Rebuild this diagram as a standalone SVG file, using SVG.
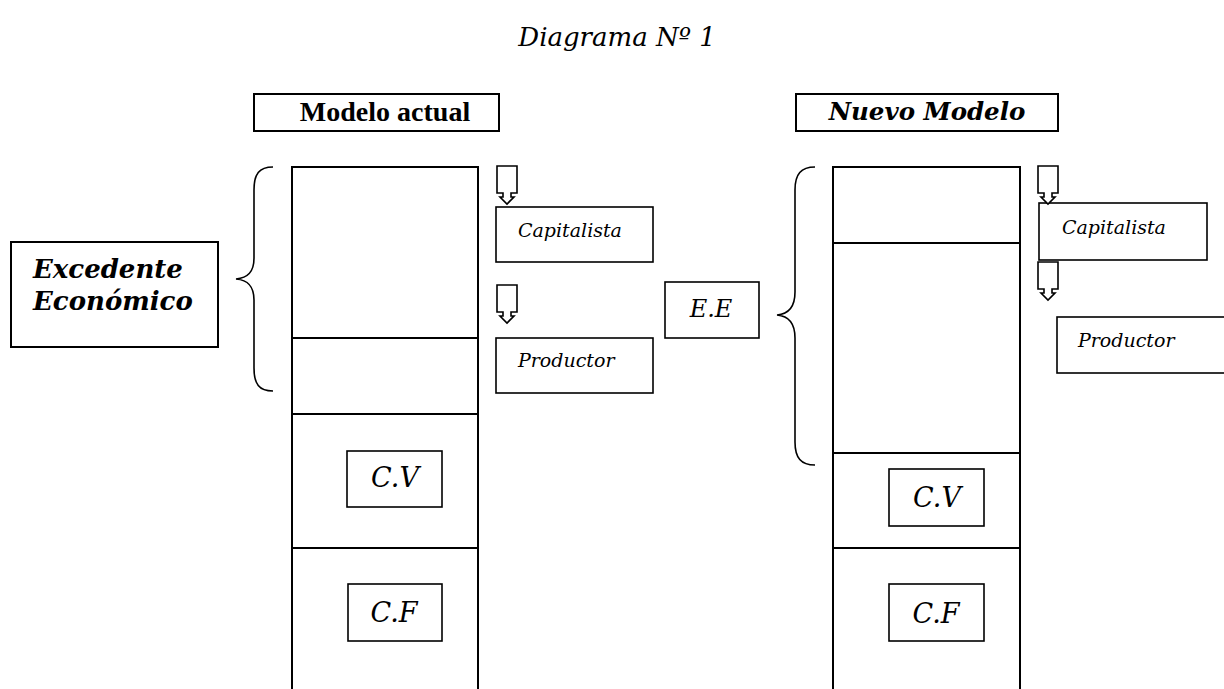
<svg xmlns="http://www.w3.org/2000/svg" width="1224" height="689" viewBox="0 0 1224 689">
<style>
.box{fill:#fff;stroke:#000;stroke-width:2}
.thin{fill:#fff;stroke:#000;stroke-width:1.6}
.ln{fill:none;stroke:#000;stroke-width:2}
.brace{fill:none;stroke:#000;stroke-width:1.6}
.arr{fill:#fff;stroke:#000;stroke-width:1.6;stroke-linejoin:miter}
.bk{font-family:"DejaVu Serif",serif;font-style:italic;fill:#000}
.tnr{font-family:"Liberation Serif",serif;font-weight:bold;fill:#000}
.lbl{font-size:19px}
.cc{font-size:27px}
</style>
<defs>
<path id="darr" d="M0,0 H20 V27 H14 V31 H17 L10,38 L3,31 H6 V27 H0 Z"/>
</defs>
<rect width="1224" height="689" fill="#fff"/>
<g id="title"><text class="bk" x="617" y="46" font-size="26" text-anchor="middle">Diagrama Nº 1</text></g>
<g id="modelo-actual"><rect class="box" x="254" y="94" width="245" height="37"/><text class="tnr" x="385" y="121" font-size="28" text-anchor="middle">Modelo actual</text></g>
<g id="nuevo-modelo"><rect class="box" x="796" y="94" width="262" height="37"/><text class="bk" x="927" y="120" font-size="24.5" font-weight="bold" text-anchor="middle">Nuevo Modelo</text></g>
<g id="columna-actual">
<path class="ln" d="M292,689 V167 H478 V689 M292,338 H478 M292,414 H478 M292,548 H478"/>
</g>
<g id="columna-nueva">
<path class="ln" d="M833,689 V167 H1020 V689 M833,243 H1020 M833,453 H1020 M833,548 H1020"/>
</g>
<g id="excedente"><rect class="box" x="11" y="242" width="207" height="105"/>
<text class="bk" x="33" y="278" font-size="26" font-weight="bold">Excedente</text>
<text class="bk" x="33" y="310" font-size="26" font-weight="bold">Económico</text></g>
<g id="ee"><rect class="thin" x="665" y="282" width="94" height="56"/><text class="bk" x="711" y="317" font-size="24" text-anchor="middle">E.E</text></g>
<g id="cv-actual"><rect class="thin" x="347" y="451" width="95" height="56"/><text class="bk cc" x="395" y="487" text-anchor="middle">C.V</text></g>
<g id="cf-actual"><rect class="thin" x="348" y="584" width="94" height="57"/><text class="bk cc" x="394" y="622" text-anchor="middle">C.F</text></g>
<g id="cv-nuevo"><rect class="thin" x="889" y="469" width="95" height="57"/><text class="bk cc" x="937" y="507" text-anchor="middle">C.V</text></g>
<g id="cf-nuevo"><rect class="thin" x="889" y="584" width="95" height="57"/><text class="bk cc" x="936" y="623" text-anchor="middle">C.F</text></g>
<g id="capitalista-actual"><rect class="thin" x="496" y="207" width="157" height="55"/><text class="bk lbl" x="518" y="237">Capitalista</text></g>
<g id="productor-actual"><rect class="thin" x="496" y="338" width="157" height="55"/><text class="bk lbl" x="518" y="367">Productor</text></g>
<g id="capitalista-nuevo"><rect class="thin" x="1039" y="203" width="168" height="57"/><text class="bk lbl" x="1062" y="234">Capitalista</text></g>
<g id="productor-nuevo"><rect class="thin" x="1057" y="317" width="170" height="56"/><text class="bk lbl" x="1078" y="347">Productor</text></g>
<g id="connectors">
<use href="#darr" class="arr" x="497" y="166"/>
<use href="#darr" class="arr" x="497" y="285"/>
<use href="#darr" class="arr" x="1038" y="166"/>
<use href="#darr" class="arr" x="1038" y="262"/>
<path class="brace" d="M273,167 C259,167 254,174 254,190 V258 C254,272 248,278 236,279 C248,280 254,286 254,300 V368 C254,384 259,391 273,391"/>
<path class="brace" d="M815,167 C801,167 795,174 795,190 V292 C795,307 789,314 777,315 C789,316 795,323 795,338 V442 C795,458 801,465 815,465"/>
</g>
</svg>
